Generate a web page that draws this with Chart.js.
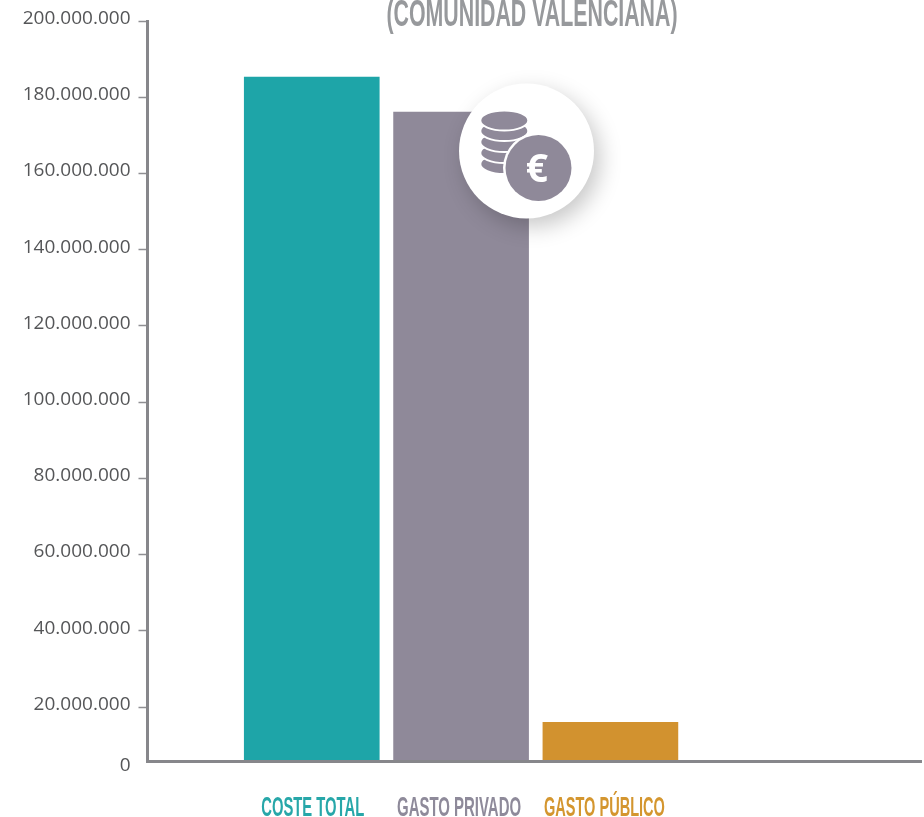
<!DOCTYPE html>
<html><head><meta charset="utf-8">
<style>html,body{margin:0;padding:0;background:#fff}canvas{display:block}</style>
<script src="https://cdn.jsdelivr.net/npm/chart.js@4/dist/chart.umd.js"></script>
</head><body><canvas id="c" width="924" height="817"></canvas>
<script>
const categories = ['COSTE TOTAL', 'GASTO PRIVADO', 'GASTO PÚBLICO'];
const values = [185300000, 176100000, 14400000];
const barColors = ['#1ea5a8', '#8f8999', '#d2922f'];
const labelColors = ['#27a7a9', '#8e8a9a', '#d4962f'];
const yTicks = [0, 20000000, 40000000, 60000000, 80000000, 100000000, 120000000, 140000000, 160000000, 180000000, 200000000];
const titleText = '(COMUNIDAD VALENCIANA)';
const labelWidths = [103, 124, 121];
const labelNudge = [1, -2, -6];

const BREAK = 20000000, BREAK_FRACTION = 54.5 / 740.5;

class BrokenY extends Chart.LinearScale {
  static id = 'brokenY';
  static defaults = Chart.LinearScale.defaults;
  getPixelForValue(v) {
    const d = v <= BREAK ? v / BREAK * BREAK_FRACTION
      : BREAK_FRACTION + (v - BREAK) / (this.max - BREAK) * (1 - BREAK_FRACTION);
    return this.getPixelForDecimal(d);
  }
  getValueForPixel(p) {
    const d = this.getDecimalForPixel(p);
    return d <= BREAK_FRACTION ? d / BREAK_FRACTION * BREAK
      : BREAK + (d - BREAK_FRACTION) / (1 - BREAK_FRACTION) * (this.max - BREAK);
  }
  _computeLabelItems(ca) {
    const items = super._computeLabelItems(ca);
    items.forEach((it, i) => { it.options.translation[1] += this.ticks[i].value === 0 ? 4 : -2.5; });
    return items;
  }
}
class SqueezedX extends Chart.LinearScale {
  static id = 'squeezedX';
  static defaults = Chart.LinearScale.defaults;
  _computeLabelItems(ca) {
    const items = super._computeLabelItems(ca);
    items.forEach((it, i) => {
      const k = this.ticks[i].value;
      it.options.maxWidth = labelWidths[k];
      it.options.translation[0] += labelNudge[k];
    });
    return items;
  }
}
Chart.register(BrokenY, SqueezedX);

const CONDENSED = "'Liberation Sans Narrow','Liberation Sans',sans-serif";

const decor = {
  id: 'decor',
  afterDraw(chart) {
    const ctx = chart.ctx;
    ctx.save();
    // title
    ctx.font = 'bold 36px ' + CONDENSED;
    ctx.fillStyle = '#97999c';
    ctx.textAlign = 'center';
    ctx.textBaseline = 'alphabetic';
    ctx.fillText(titleText, 532, 25.5, 291);
    // badge
    ctx.save();
    ctx.shadowColor = 'rgba(0,0,0,0.22)';
    ctx.shadowBlur = 22;
    ctx.shadowOffsetX = 6;
    ctx.shadowOffsetY = 8;
    ctx.fillStyle = '#fff';
    ctx.beginPath(); ctx.arc(526.5, 151, 67.5, 0, Math.PI * 2); ctx.fill();
    ctx.restore();
    // coins
    ctx.fillStyle = '#8f8999';
    ctx.strokeStyle = '#fff';
    ctx.lineWidth = 2;
    [164, 153, 142, 131, 120.5].forEach(y => {
      ctx.beginPath(); ctx.ellipse(504.3, y, 24, 10, 0, 0, Math.PI * 2); ctx.fill(); ctx.stroke();
    });
    ctx.fillStyle = '#fff';
    ctx.beginPath(); ctx.arc(538.5, 168, 35.5, 0, Math.PI * 2); ctx.fill();
    ctx.fillStyle = '#8f8999';
    ctx.beginPath(); ctx.arc(538.5, 168, 33, 0, Math.PI * 2); ctx.fill();
    ctx.fillStyle = '#fff';
    ctx.font = "bold 39px 'Open Sans',sans-serif";
    ctx.textBaseline = 'middle';
    ctx.fillText('€', 537, 171);
    ctx.restore();
  }
};

new Chart(document.getElementById('c'), {
  type: 'bar',
  data: {
    datasets: [{
      data: categories.map((c, i) => ({ x: i, y: values[i] })),
      backgroundColor: barColors,
      barThickness: 135,
      borderWidth: 0
    }]
  },
  options: {
    responsive: false,
    animation: false,
    layout: { padding: { top: 21, right: 3, left: 0, bottom: 0 } },
    plugins: { legend: { display: false }, tooltip: { enabled: false }, title: { display: false } },
    scales: {
      x: {
        type: 'squeezedX',
        offset: false,
        min: -1.1, max: 4.08,
        afterBuildTicks(s) { s.ticks = categories.map((c, i) => ({ value: i })); },
        afterFit(s) { s.height = 817 - 761.5; },
        grid: { display: false },
        border: { display: true, color: '#87878b', width: 3, z: 1 },
        ticks: {
          autoSkip: false, maxRotation: 0,
          callback: v => categories[v],
          color: c => labelColors[c.index],
          font: { family: CONDENSED, size: 28, weight: 'bold' },
          padding: 22
        }
      },
      y: {
        type: 'brokenY',
        min: 0, max: 200000000,
        afterBuildTicks(s) { s.ticks = yTicks.map(v => ({ value: v })); },
        afterFit(s) { s.width = 147.5; },
        grid: {
          drawOnChartArea: false, drawTicks: true, tickLength: 9, tickWidth: 1.5,
          tickColor: c => c.tick && c.tick.value === 0 ? 'rgba(0,0,0,0)' : '#8f8f93'
        },
        border: { display: true, color: '#87878b', width: 3 },
        ticks: {
          autoSkip: false,
          callback: v => String(v).replace(/\B(?=(\d{3})+$)/g, '.'),
          color: '#555658',
          font: { family: "'Open Sans',sans-serif", size: 19 },
          padding: 8
        }
      }
    }
  },
  plugins: [decor]
});
</script></body></html>
